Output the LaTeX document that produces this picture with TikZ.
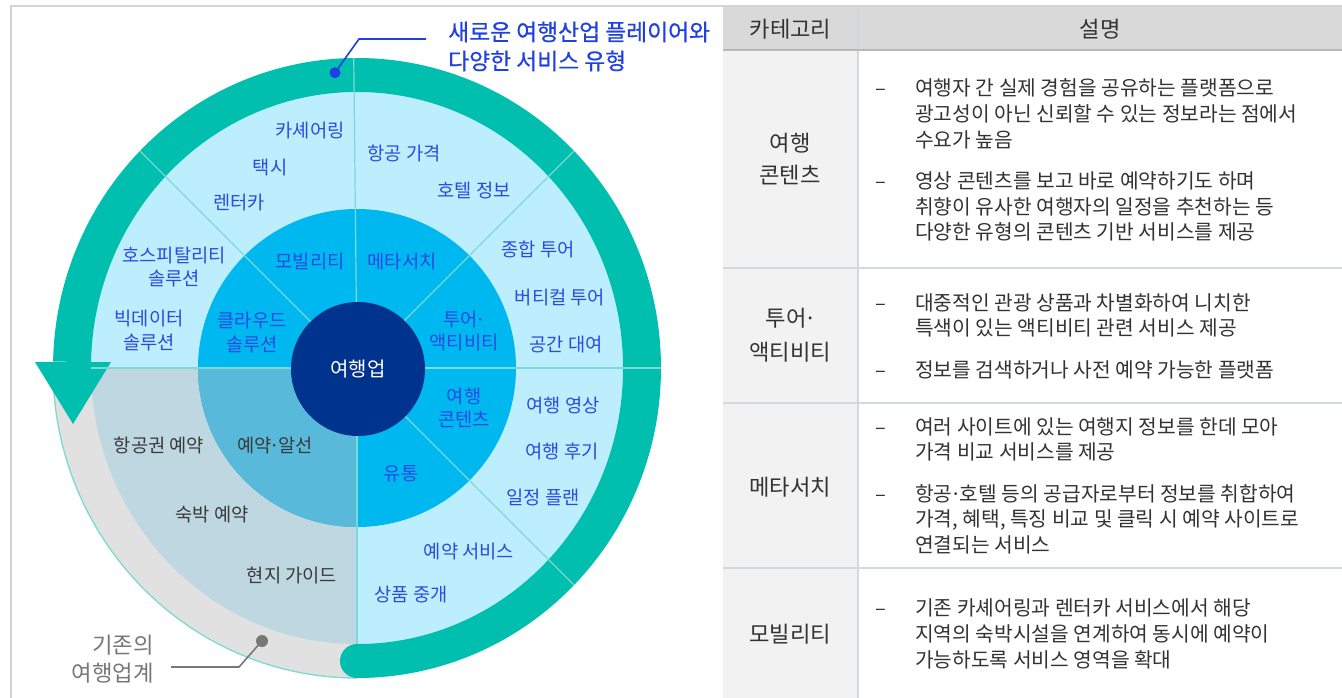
\documentclass[tikz,border=0pt]{standalone}
\usepackage{fontspec}
\setmainfont{Noto Sans CJK KR}
\newfontfamily\medfont{Noto Sans CJK KR}[FakeBold=0.5]
\definecolor{ringteal}{HTML}{00BFAE}
\definecolor{lightblue}{HTML}{BDEEFD}
\definecolor{midblue}{HTML}{00B8F0}
\definecolor{darknavy}{HTML}{00338D}
\definecolor{llgray}{HTML}{BFD7E0}
\definecolor{llmid}{HTML}{59B9DB}
\definecolor{grayring}{HTML}{E1E1E1}
\definecolor{divcol}{HTML}{7DD9D3}
\definecolor{txtblue}{HTML}{2B4BE0}
\definecolor{txtdark}{HTML}{3A3A3A}
\definecolor{annblue}{HTML}{1F40E3}
\definecolor{anngray}{HTML}{777777}
\definecolor{hdrgray}{HTML}{D9D9D9}
\definecolor{catgray}{HTML}{F2F2F2}
\definecolor{tlinecol}{HTML}{D3D8DC}
\definecolor{framecol}{HTML}{D4D4D4}
\definecolor{tabtext}{HTML}{333333}
\newcommand{\mdot}{\kern-0.1em·\kern-0.1em}
\begin{document}
\begin{tikzpicture}[x=1pt,y=1pt,
  every node/.style={inner sep=0pt},
  bt/.style={font=\fontsize{18.7}{22}\selectfont, text=txtblue, text height=16pt, text depth=2.1pt},
  dt/.style={bt, text=txtdark},
  wt/.style={font=\fontsize{20}{23}\selectfont, text=white, text height=17.1pt, text depth=2.3pt},
  tb/.style={font=\fontsize{20.3}{24}\selectfont, text=tabtext, text height=17.4pt, text depth=2.3pt, anchor=west},
  bulletdash/.style={font=\fontsize{20}{24}\selectfont, text=tabtext, text height=17.1pt, text depth=2.3pt},
  cat/.style={font=\fontsize{22.2}{26}\selectfont, text=tabtext, text height=19pt, text depth=2.5pt},
  ann/.style={font=\medfont\fontsize{22.8}{26}\selectfont, text=annblue, text height=19.5pt, text depth=2.6pt, anchor=west},
  anng/.style={font=\fontsize{22.3}{26}\selectfont, text=anngray, text height=19.1pt, text depth=2.5pt, anchor=east},
  divline/.style={draw=divcol, line width=1.2pt},
  tline/.style={draw=tlinecol, line width=2pt},
]
\useasboundingbox (0,0) rectangle (1342,-698);
\fill[white] (0,0) rectangle (1342,-698);

% ---------- table ----------
\fill[hdrgray] (723,-7.5) rectangle (1342,-50);
\fill[catgray] (723,-50) rectangle (858,-698);
\draw[tline] (858,-7.5) -- (858,-698);
\foreach \yy in {268,403,568} \draw[tline] (723,-\yy) -- (1342,-\yy);
\draw[draw=hdrgray!85!black, line width=1.5pt] (723,-50) -- (1342,-50);
\draw[draw=framecol, line width=2pt] (10.5,-698) -- (10.5,-6) -- (1342,-6);

% ---------- diagram ----------
\begin{scope}[shift={(357,-368)}]
  \fill[grayring] (0,0) -- (180:304pt and 310pt) arc[start angle=180, end angle=270, x radius=304pt, y radius=310pt] -- cycle;
  \draw[divcol, line width=1.3pt] (180:304pt and 310pt) arc[start angle=180, end angle=270, x radius=304pt, y radius=310pt];
  \fill[lightblue] (0,0) ellipse[x radius=266pt, y radius=276pt];
  \fill[llgray] (0,0) -- (180:266pt and 276pt) arc[start angle=180, end angle=270, x radius=266pt, y radius=276pt] -- cycle;
  \fill[midblue] (0,0) circle[radius=159pt];
  \fill[llmid] (0,0) -- (180:159pt) arc[start angle=180, end angle=270, radius=159pt] -- cycle;
  % teal ring
  \fill[ringteal] (178.8:304pt and 310pt) arc[start angle=178.8, end angle=-90, x radius=304pt, y radius=310pt]
     -- (-90:266pt and 276pt) arc[start angle=-90, end angle=178.8, x radius=266pt, y radius=276pt] -- cycle;
  \fill[ringteal] (0,-293) circle[radius=17pt];
\end{scope}
\fill[ringteal] (35,-362) -- (111,-362) -- (73,-424) -- cycle;
\begin{scope}[shift={(357,-368)}]
  \draw[divline] (0,0) -- (0:304pt);
  \draw[divline] (0,0) -- (45:307pt);
  \draw[divline] (0,0) -- (90.6:310pt);
  \draw[divline] (0,0) -- (135:307pt);
  \draw[divline] (0,0) -- (180:266pt);
  \draw[divline] (0,0) -- (270:276pt);
  \draw[divline] (0,0) -- (315:307pt);
  \fill[darknavy] (1,-1) circle[radius=67pt];
\end{scope}

% labels
\node[wt] (core) at (358,-369) {여행업};
\node[bt] (mob) at (310,-262) {모빌리티};
\node[bt] (meta) at (402,-262) {메타서치};
\node[bt] (cloud1) at (252,-321) {클라우드};
\node[bt] (cloud2) at (252,-345) {솔루션};
\node[bt] (tour1) at (464,-320) {투어\mdot};
\node[bt] (tour2) at (464,-343) {액티비티};
\node[bt] (cont1) at (464,-397) {여행};
\node[bt] (cont2) at (464,-420) {콘텐츠};
\node[bt] (dist) at (401,-474) {유통};
\node[dt] (agency) at (275,-446) {예약\mdot 알선};

\node[bt] (cashare) at (310,-131) {카셰어링};
\node[bt] (taxi) at (270,-168) {택시};
\node[bt] (rentcar) at (239,-203) {렌터카};
\node[bt] (airprice) at (404,-154) {항공 가격};
\node[bt] (hotelinfo) at (474,-191) {호텔 정보};
\node[bt] (hosp1) at (174,-256) {호스피탈리티};
\node[bt] (hosp2) at (174,-279) {솔루션};
\node[bt] (bigd1) at (149,-319) {빅데이터};
\node[bt] (bigd2) at (149,-343) {솔루션};
\node[bt] (pkg) at (538,-250) {종합 투어};
\node[bt] (vert) at (560,-298) {버티컬 투어};
\node[bt] (space) at (566,-345) {공간 대여};
\node[bt] (video) at (563,-406) {여행 영상};
\node[bt] (review) at (562,-452) {여행 후기};
\node[bt] (plan) at (543,-498) {일정 플랜};
\node[bt] (resv) at (469,-552) {예약 서비스};
\node[bt] (broker) at (411,-595) {상품 중개};
\node[dt] (flight) at (159,-446) {항공권 예약};
\node[dt] (stay) at (212,-515) {숙박 예약};
\node[dt] (guide) at (292,-576) {현지 가이드};

% annotations
\node[circle, fill=annblue, minimum size=11pt] (dotA) at (335,-72.7) {};
\coordinate (bendA) at (359,-39);
\coordinate (endA) at (426,-39);
\draw[annblue, line width=1.6pt] (dotA.center) -- (bendA) -- (endA);
\node[ann] (annA1) at (448,-32) {새로운 여행산업 플레이어와};
\node[ann] (annA2) at (448,-61) {다양한 서비스 유형};

\node[circle, fill=anngray, minimum size=12pt] (dotB) at (262,-641) {};
\coordinate (bendB) at (239,-667);
\coordinate (endB) at (171,-667);
\draw[anngray, line width=1.6pt] (dotB.center) -- (bendB) -- (endB);
\node[anng] (annB1) at (154,-645) {기존의};
\node[anng] (annB2) at (154,-673) {여행업계};

% table text
\node[cat] (hcat) at (790.5,-29) {카테고리};
\node[cat] (hdesc) at (1100,-29) {설명};

\node[cat] (c1a) at (790,-143) {여행};
\node[cat] (c1b) at (790,-175) {콘텐츠};
\node[bulletdash] (b1a) at (881,-88) {–};
\node[tb] (d1a) at (915,-88) {여행자 간 실제 경험을 공유하는 플랫폼으로};
\node[tb] (d1b) at (915,-114) {광고성이 아닌 신뢰할 수 있는 정보라는 점에서};
\node[tb] (d1c) at (915,-140) {수요가 높음};
\node[bulletdash] (b1b) at (881,-181) {–};
\node[tb] (d1d) at (915,-181) {영상 콘텐츠를 보고 바로 예약하기도 하며};
\node[tb] (d1e) at (915,-207) {취향이 유사한 여행자의 일정을 추천하는 등};
\node[tb] (d1f) at (915,-232) {다양한 유형의 콘텐츠 기반 서비스를 제공};

\node[cat] (c2a) at (790,-318) {투어\mdot};
\node[cat] (c2b) at (790,-352) {액티비티};
\node[bulletdash] (b2a) at (881,-303) {–};
\node[tb] (d2a) at (915,-303) {대중적인 관광 상품과 차별화하여 니치한};
\node[tb] (d2b) at (915,-328) {특색이 있는 액티비티 관련 서비스 제공};
\node[bulletdash] (b2b) at (881,-370) {–};
\node[tb] (d2c) at (915,-370) {정보를 검색하거나 사전 예약 가능한 플랫폼};

\node[cat] (c3a) at (790,-487) {메타서치};
\node[bulletdash] (b3a) at (881,-427) {–};
\node[tb] (d3a) at (915,-427) {여러 사이트에 있는 여행지 정보를 한데 모아};
\node[tb] (d3b) at (915,-452) {가격 비교 서비스를 제공};
\node[bulletdash] (b3b) at (881,-494) {–};
\node[tb] (d3c) at (915,-494) {항공\mdot 호텔 등의 공급자로부터 정보를 취합하여};
\node[tb] (d3d) at (915,-519) {가격, 혜택, 특징 비교 및 클릭 시 예약 사이트로};
\node[tb] (d3e) at (915,-545) {연결되는 서비스};

\node[cat] (c4a) at (790,-634) {모빌리티};
\node[bulletdash] (b4a) at (881,-608) {–};
\node[tb] (d4a) at (915,-608) {기존 카셰어링과 렌터카 서비스에서 해당};
\node[tb] (d4b) at (915,-634) {지역의 숙박시설을 연계하여 동시에 예약이};
\node[tb] (d4c) at (915,-660) {가능하도록 서비스 영역을 확대};
\end{tikzpicture}
\end{document}
